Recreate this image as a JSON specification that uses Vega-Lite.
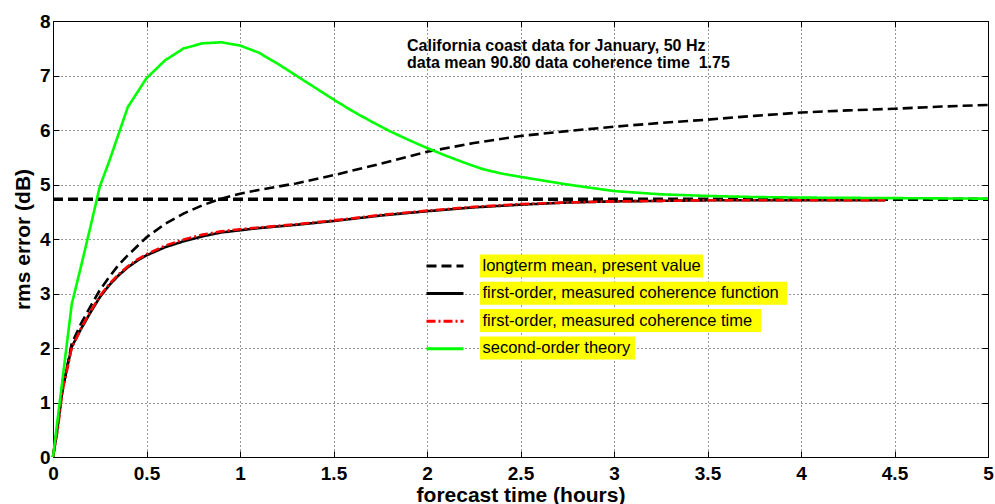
{
  "$schema": "https://vega.github.io/schema/vega-lite/v6.json",
  "width": 935,
  "height": 436,
  "autosize": {"type": "none"},
  "padding": {"left": 53, "top": 21, "right": 7, "bottom": 47},
  "background": "white",
  "config": {
    "font": "Liberation Sans",
    "view": {"stroke": "#000", "strokeWidth": 1},
    "axis": {
      "labelFont": "Liberation Sans",
      "titleFont": "Liberation Sans",
      "labelColor": "#000",
      "titleColor": "#000",
      "tickColor": "#000",
      "domain": false
    }
  },
  "title": {
    "text": ["California coast data for January, 50 Hz", "data mean 90.80 data coherence time\u00a0 1.75"],
    "anchor": "start",
    "frame": "group",
    "orient": "top",
    "baseline": "top",
    "offset": 0,
    "dx": 354,
    "dy": 59.3,
    "font": "Liberation Sans",
    "fontSize": 16,
    "fontWeight": "bold",
    "color": "#000",
    "lineHeight": 17.8
  },
  "data": {
    "values": [
      {"s": "longterm mean, present value", "c": "mean", "x": 0, "y": 4.73},
      {"s": "longterm mean, present value", "c": "mean", "x": 5, "y": 4.73},
      {"s": "longterm mean, present value", "c": "present", "x": 0, "y": 0},
      {"s": "longterm mean, present value", "c": "present", "x": 0.05, "y": 1.2},
      {"s": "longterm mean, present value", "c": "present", "x": 0.1, "y": 2.08},
      {"s": "longterm mean, present value", "c": "present", "x": 0.15, "y": 2.45},
      {"s": "longterm mean, present value", "c": "present", "x": 0.2, "y": 2.76},
      {"s": "longterm mean, present value", "c": "present", "x": 0.25, "y": 3.06},
      {"s": "longterm mean, present value", "c": "present", "x": 0.3, "y": 3.3},
      {"s": "longterm mean, present value", "c": "present", "x": 0.35, "y": 3.52},
      {"s": "longterm mean, present value", "c": "present", "x": 0.4, "y": 3.7},
      {"s": "longterm mean, present value", "c": "present", "x": 0.5, "y": 4.03},
      {"s": "longterm mean, present value", "c": "present", "x": 0.6, "y": 4.28},
      {"s": "longterm mean, present value", "c": "present", "x": 0.7, "y": 4.47},
      {"s": "longterm mean, present value", "c": "present", "x": 0.8, "y": 4.62},
      {"s": "longterm mean, present value", "c": "present", "x": 0.9, "y": 4.74},
      {"s": "longterm mean, present value", "c": "present", "x": 1.0, "y": 4.83},
      {"s": "longterm mean, present value", "c": "present", "x": 1.1, "y": 4.9},
      {"s": "longterm mean, present value", "c": "present", "x": 1.2, "y": 4.96},
      {"s": "longterm mean, present value", "c": "present", "x": 1.3, "y": 5.02},
      {"s": "longterm mean, present value", "c": "present", "x": 1.5, "y": 5.17},
      {"s": "longterm mean, present value", "c": "present", "x": 1.75, "y": 5.38},
      {"s": "longterm mean, present value", "c": "present", "x": 2.0, "y": 5.6},
      {"s": "longterm mean, present value", "c": "present", "x": 2.25, "y": 5.76},
      {"s": "longterm mean, present value", "c": "present", "x": 2.5, "y": 5.89},
      {"s": "longterm mean, present value", "c": "present", "x": 2.75, "y": 5.98},
      {"s": "longterm mean, present value", "c": "present", "x": 3.0, "y": 6.06},
      {"s": "longterm mean, present value", "c": "present", "x": 3.25, "y": 6.13},
      {"s": "longterm mean, present value", "c": "present", "x": 3.5, "y": 6.19},
      {"s": "longterm mean, present value", "c": "present", "x": 3.75, "y": 6.26},
      {"s": "longterm mean, present value", "c": "present", "x": 4.0, "y": 6.32},
      {"s": "longterm mean, present value", "c": "present", "x": 4.25, "y": 6.36},
      {"s": "longterm mean, present value", "c": "present", "x": 4.5, "y": 6.39},
      {"s": "longterm mean, present value", "c": "present", "x": 4.75, "y": 6.43},
      {"s": "longterm mean, present value", "c": "present", "x": 5.0, "y": 6.46},
      {"s": "first-order, measured coherence function", "c": "func", "x": 0, "y": 0},
      {"s": "first-order, measured coherence function", "c": "func", "x": 0.025, "y": 0.55},
      {"s": "first-order, measured coherence function", "c": "func", "x": 0.05, "y": 1.25},
      {"s": "first-order, measured coherence function", "c": "func", "x": 0.1, "y": 2.02},
      {"s": "first-order, measured coherence function", "c": "func", "x": 0.15, "y": 2.35},
      {"s": "first-order, measured coherence function", "c": "func", "x": 0.2, "y": 2.65},
      {"s": "first-order, measured coherence function", "c": "func", "x": 0.25, "y": 2.93},
      {"s": "first-order, measured coherence function", "c": "func", "x": 0.3, "y": 3.15},
      {"s": "first-order, measured coherence function", "c": "func", "x": 0.35, "y": 3.33},
      {"s": "first-order, measured coherence function", "c": "func", "x": 0.4, "y": 3.48},
      {"s": "first-order, measured coherence function", "c": "func", "x": 0.45, "y": 3.6},
      {"s": "first-order, measured coherence function", "c": "func", "x": 0.5, "y": 3.7},
      {"s": "first-order, measured coherence function", "c": "func", "x": 0.6, "y": 3.85},
      {"s": "first-order, measured coherence function", "c": "func", "x": 0.7, "y": 3.96},
      {"s": "first-order, measured coherence function", "c": "func", "x": 0.8, "y": 4.05},
      {"s": "first-order, measured coherence function", "c": "func", "x": 0.9, "y": 4.12},
      {"s": "first-order, measured coherence function", "c": "func", "x": 1.0, "y": 4.16},
      {"s": "first-order, measured coherence function", "c": "func", "x": 1.1, "y": 4.2},
      {"s": "first-order, measured coherence function", "c": "func", "x": 1.2, "y": 4.23},
      {"s": "first-order, measured coherence function", "c": "func", "x": 1.3, "y": 4.26},
      {"s": "first-order, measured coherence function", "c": "func", "x": 1.5, "y": 4.33},
      {"s": "first-order, measured coherence function", "c": "func", "x": 1.75, "y": 4.43},
      {"s": "first-order, measured coherence function", "c": "func", "x": 2.0, "y": 4.51},
      {"s": "first-order, measured coherence function", "c": "func", "x": 2.25, "y": 4.58},
      {"s": "first-order, measured coherence function", "c": "func", "x": 2.5, "y": 4.63},
      {"s": "first-order, measured coherence function", "c": "func", "x": 2.75, "y": 4.67},
      {"s": "first-order, measured coherence function", "c": "func", "x": 3.0, "y": 4.69},
      {"s": "first-order, measured coherence function", "c": "func", "x": 3.25, "y": 4.7},
      {"s": "first-order, measured coherence function", "c": "func", "x": 3.5, "y": 4.71},
      {"s": "first-order, measured coherence function", "c": "func", "x": 3.75, "y": 4.71},
      {"s": "first-order, measured coherence function", "c": "func", "x": 4.0, "y": 4.71},
      {"s": "first-order, measured coherence function", "c": "func", "x": 4.25, "y": 4.71},
      {"s": "first-order, measured coherence function", "c": "func", "x": 4.45, "y": 4.71},
      {"s": "first-order, measured coherence time", "c": "time", "x": 0, "y": 0},
      {"s": "first-order, measured coherence time", "c": "time", "x": 0.025, "y": 0.5},
      {"s": "first-order, measured coherence time", "c": "time", "x": 0.05, "y": 1.2},
      {"s": "first-order, measured coherence time", "c": "time", "x": 0.1, "y": 2.0},
      {"s": "first-order, measured coherence time", "c": "time", "x": 0.15, "y": 2.36},
      {"s": "first-order, measured coherence time", "c": "time", "x": 0.2, "y": 2.67},
      {"s": "first-order, measured coherence time", "c": "time", "x": 0.25, "y": 2.95},
      {"s": "first-order, measured coherence time", "c": "time", "x": 0.3, "y": 3.17},
      {"s": "first-order, measured coherence time", "c": "time", "x": 0.35, "y": 3.35},
      {"s": "first-order, measured coherence time", "c": "time", "x": 0.4, "y": 3.5},
      {"s": "first-order, measured coherence time", "c": "time", "x": 0.45, "y": 3.62},
      {"s": "first-order, measured coherence time", "c": "time", "x": 0.5, "y": 3.72},
      {"s": "first-order, measured coherence time", "c": "time", "x": 0.6, "y": 3.88},
      {"s": "first-order, measured coherence time", "c": "time", "x": 0.7, "y": 3.99},
      {"s": "first-order, measured coherence time", "c": "time", "x": 0.8, "y": 4.08},
      {"s": "first-order, measured coherence time", "c": "time", "x": 0.9, "y": 4.14},
      {"s": "first-order, measured coherence time", "c": "time", "x": 1.0, "y": 4.18},
      {"s": "first-order, measured coherence time", "c": "time", "x": 1.1, "y": 4.21},
      {"s": "first-order, measured coherence time", "c": "time", "x": 1.2, "y": 4.24},
      {"s": "first-order, measured coherence time", "c": "time", "x": 1.3, "y": 4.27},
      {"s": "first-order, measured coherence time", "c": "time", "x": 1.5, "y": 4.34},
      {"s": "first-order, measured coherence time", "c": "time", "x": 1.75, "y": 4.44},
      {"s": "first-order, measured coherence time", "c": "time", "x": 2.0, "y": 4.52},
      {"s": "first-order, measured coherence time", "c": "time", "x": 2.25, "y": 4.59},
      {"s": "first-order, measured coherence time", "c": "time", "x": 2.5, "y": 4.64},
      {"s": "first-order, measured coherence time", "c": "time", "x": 2.75, "y": 4.67},
      {"s": "first-order, measured coherence time", "c": "time", "x": 3.0, "y": 4.69},
      {"s": "first-order, measured coherence time", "c": "time", "x": 3.25, "y": 4.7},
      {"s": "first-order, measured coherence time", "c": "time", "x": 3.5, "y": 4.71},
      {"s": "first-order, measured coherence time", "c": "time", "x": 3.75, "y": 4.71},
      {"s": "first-order, measured coherence time", "c": "time", "x": 4.0, "y": 4.71},
      {"s": "first-order, measured coherence time", "c": "time", "x": 4.25, "y": 4.71},
      {"s": "first-order, measured coherence time", "c": "time", "x": 4.45, "y": 4.71},
      {"s": "second-order theory", "c": "theory", "x": 0, "y": 0},
      {"s": "second-order theory", "c": "theory", "x": 0.1, "y": 2.8},
      {"s": "second-order theory", "c": "theory", "x": 0.15, "y": 3.5},
      {"s": "second-order theory", "c": "theory", "x": 0.2, "y": 4.22},
      {"s": "second-order theory", "c": "theory", "x": 0.25, "y": 4.96},
      {"s": "second-order theory", "c": "theory", "x": 0.3, "y": 5.42},
      {"s": "second-order theory", "c": "theory", "x": 0.4, "y": 6.42},
      {"s": "second-order theory", "c": "theory", "x": 0.5, "y": 6.95},
      {"s": "second-order theory", "c": "theory", "x": 0.6, "y": 7.28},
      {"s": "second-order theory", "c": "theory", "x": 0.7, "y": 7.5},
      {"s": "second-order theory", "c": "theory", "x": 0.8, "y": 7.59},
      {"s": "second-order theory", "c": "theory", "x": 0.9, "y": 7.61},
      {"s": "second-order theory", "c": "theory", "x": 1.0, "y": 7.55},
      {"s": "second-order theory", "c": "theory", "x": 1.1, "y": 7.42},
      {"s": "second-order theory", "c": "theory", "x": 1.2, "y": 7.22},
      {"s": "second-order theory", "c": "theory", "x": 1.3, "y": 7.0},
      {"s": "second-order theory", "c": "theory", "x": 1.4, "y": 6.78},
      {"s": "second-order theory", "c": "theory", "x": 1.5, "y": 6.56},
      {"s": "second-order theory", "c": "theory", "x": 1.6, "y": 6.35},
      {"s": "second-order theory", "c": "theory", "x": 1.7, "y": 6.16},
      {"s": "second-order theory", "c": "theory", "x": 1.8, "y": 5.98},
      {"s": "second-order theory", "c": "theory", "x": 1.9, "y": 5.82},
      {"s": "second-order theory", "c": "theory", "x": 2.0, "y": 5.67},
      {"s": "second-order theory", "c": "theory", "x": 2.1, "y": 5.53},
      {"s": "second-order theory", "c": "theory", "x": 2.2, "y": 5.4},
      {"s": "second-order theory", "c": "theory", "x": 2.3, "y": 5.28},
      {"s": "second-order theory", "c": "theory", "x": 2.4, "y": 5.2},
      {"s": "second-order theory", "c": "theory", "x": 2.5, "y": 5.14},
      {"s": "second-order theory", "c": "theory", "x": 2.75, "y": 5.0},
      {"s": "second-order theory", "c": "theory", "x": 3.0, "y": 4.88},
      {"s": "second-order theory", "c": "theory", "x": 3.25, "y": 4.82},
      {"s": "second-order theory", "c": "theory", "x": 3.5, "y": 4.79},
      {"s": "second-order theory", "c": "theory", "x": 3.75, "y": 4.77},
      {"s": "second-order theory", "c": "theory", "x": 4.0, "y": 4.76},
      {"s": "second-order theory", "c": "theory", "x": 4.5, "y": 4.75},
      {"s": "second-order theory", "c": "theory", "x": 5.0, "y": 4.74}
    ]
  },
  "encoding": {
    "color": {
      "field": "s",
      "type": "nominal",
      "scale": {
        "domain": ["longterm mean, present value", "first-order, measured coherence function", "first-order, measured coherence time", "second-order theory"],
        "range": ["#000000", "#000000", "#ff0000", "#00ff00"]
      },
      "legend": {
        "orient": "none",
        "legendX": 392,
        "legendY": 233.5,
        "title": null,
        "padding": 0,
        "symbolType": "stroke",
        "symbolSize": 1369,
        "symbolStrokeWidth": 3,
        "labelExpr": "''",
        "labelFontSize": 1,
        "rowPadding": 9.6,
        "encode": {
          "symbols": {
            "update": {
              "x": {"value": 0},
              "y": {"value": 11.5},
              "strokeWidth": {"value": 3}
            }
          },
          "labels": {
            "update": {
              "x": {"value": 20},
              "y": {"value": 11.5}
            }
          }
        }
      }
    },
    "strokeDash": {
      "field": "s",
      "type": "nominal",
      "scale": {
        "domain": ["longterm mean, present value", "first-order, measured coherence function", "first-order, measured coherence time", "second-order theory"],
        "range": [[10, 5], [1, 0], [9, 3, 2, 3], [1, 0]]
      },
      "legend": {
        "orient": "none",
        "legendX": 392,
        "legendY": 233.5,
        "title": null
      }
    },
    "opacity": {
      "field": "s",
      "type": "nominal",
      "scale": {
        "type": "point",
        "domain": ["second-order theory", "first-order, measured coherence time", "first-order, measured coherence function", "longterm mean, present value"],
        "range": [1, 1]
      },
      "legend": {
        "orient": "none",
        "legendX": 427,
        "legendY": 233.5,
        "title": null,
        "padding": 0,
        "values": ["longterm mean, present value", "first-order, measured coherence function", "first-order, measured coherence time", "second-order theory"],
        "labelFont": "Liberation Sans",
        "labelFontSize": 16.5,
        "labelColor": "#000",
        "labelLimit": 400,
        "rowPadding": 4.3,
        "encode": {
          "symbols": {
            "update": {
              "x": {"value": 0},
              "y": {"value": 0},
              "size": {"value": 4},
              "shape": {"signal": "datum.value === 'longterm mean, present value' ? 'M0,0H223V23H0Z' : datum.value === 'first-order, measured coherence function' ? 'M0,0H307V23H0Z' : datum.value === 'first-order, measured coherence time' ? 'M0,0H281V23H0Z' : 'M0,0H155V23H0Z'"},
              "fill": {"value": "#ffff00"},
              "fillOpacity": {"value": 1},
              "opacity": {"value": 1},
              "stroke": {"value": "transparent"},
              "strokeWidth": {"value": 0}
            }
          },
          "labels": {
            "update": {
              "x": {"value": 2.5},
              "y": {"value": 11.5}
            }
          }
        }
      }
    },
    "detail": {"field": "c"}
  },
  "layer": [
    {
      "transform": [{"filter": "datum.c === 'mean'"}],
      "mark": {"type": "line", "strokeWidth": 3.5},
      "encoding": {
        "x": {
          "field": "x", "type": "quantitative",
          "scale": {"domain": [0, 5], "nice": false, "zero": false},
          "axis": {"orient": "top", "values": [0, 0.5, 1, 1.5, 2, 2.5, 3, 3.5, 4, 4.5, 5], "labels": false, "grid": false, "title": null, "tickSize": -6}
        },
        "y": {
          "field": "y", "type": "quantitative",
          "scale": {"domain": [0, 8], "nice": false},
          "axis": {"orient": "right", "values": [0, 1, 2, 3, 4, 5, 6, 7, 8], "labels": false, "grid": false, "title": null, "tickSize": -6}
        }
      }
    },
    {
      "transform": [{"filter": "datum.c !== 'mean'"}],
      "mark": {"type": "line", "strokeWidth": 2.6},
      "encoding": {
        "x": {
          "field": "x", "type": "quantitative",
          "scale": {"domain": [0, 5], "nice": false, "zero": false},
          "axis": {
            "orient": "bottom",
            "values": [0, 0.5, 1, 1.5, 2, 2.5, 3, 3.5, 4, 4.5, 5],
            "format": "~g",
            "grid": true, "gridDash": [1, 3], "gridColor": "#000", "gridOpacity": 0.8,
            "tickSize": -6,
            "labelFontSize": 19, "labelFontWeight": "bold", "labelPadding": 13,
            "labelFlush": false, "labelOverlap": false,
            "title": "forecast time (hours)", "titleFontSize": 21, "titleFontWeight": "bold", "titlePadding": 1
          }
        },
        "y": {
          "field": "y", "type": "quantitative",
          "scale": {"domain": [0, 8], "nice": false},
          "axis": {
            "orient": "left",
            "values": [0, 1, 2, 3, 4, 5, 6, 7, 8],
            "grid": true, "gridDash": [1, 3], "gridColor": "#000", "gridOpacity": 0.8,
            "tickSize": -6,
            "labelFontSize": 19, "labelFontWeight": "bold", "labelPadding": 9,
            "labelFlush": false, "labelOverlap": false,
            "title": "rms error (dB)", "titleFontSize": 21, "titleFontWeight": "bold", "titlePadding": 6
          }
        }
      }
    }
  ],
  "resolve": {"axis": {"x": "independent", "y": "independent"}}
}
